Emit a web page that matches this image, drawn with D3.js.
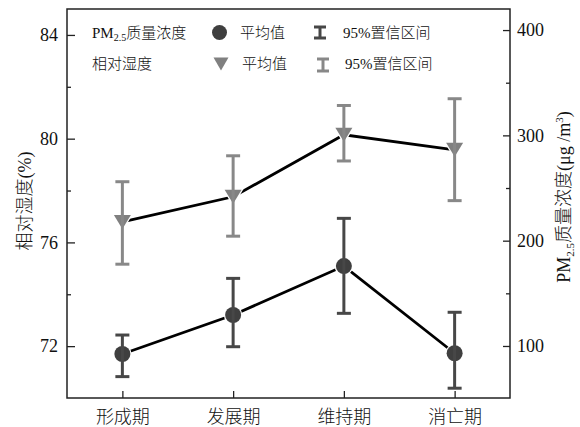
<!DOCTYPE html>
<html>
<head>
<meta charset="utf-8">
<script src="https://cdn.jsdelivr.net/npm/d3@7"></script>
<style>
  html, body { margin: 0; padding: 0; background: #fff; }
  svg text { font-family: "Liberation Serif", "Times New Roman", "Noto Sans CJK SC", serif; fill: #111; font-weight: 300; }
</style>
</head>
<body>
<svg id="chart" width="580" height="427"></svg>
<script>
// ---- data ----
const categories = ["形成期", "发展期", "维持期", "消亡期"];
const pmMean = [92.4, 129.4, 175.9, 93.1];
const pmLow  = [70.9, 99.3, 131.0, 59.9];
const pmHigh = [110.4, 164.2, 221.2, 132.0];
const rhMean = [76.79, 77.76, 80.15, 79.57];
const rhLow  = [75.16, 76.24, 79.14, 77.61];
const rhHigh = [78.34, 79.34, 81.28, 81.54];
const rhTicks = [72, 76, 80, 84];
const rhMinor = [74, 78, 82];
const pmTicks = [100, 200, 300, 400];
const pmMinor = [150, 250, 350];

// ---- layout ----
const L = 67, R = 510, T = 9, B = 398;
const svg = d3.select("#chart");
const x = d3.scalePoint().domain(categories).range([L, R]).padding(0.5);
const yL = d3.scaleLinear().domain([70, 85]).range([B, T]);
const yR = d3.scaleLinear().domain([50.6, 420]).range([B, T]);

const cDark = "#3f3f3f", cDarkBar = "#474747";
const cGray = "#808080", cGrayBar = "#888888";

// axes
const gL = svg.append("g").attr("transform", `translate(${L},0)`)
  .call(d3.axisLeft(yL).tickValues(rhTicks).tickSize(-8).tickSizeOuter(0).tickPadding(9));
const gLm = svg.append("g").attr("transform", `translate(${L},0)`)
  .call(d3.axisLeft(yL).tickValues(rhMinor).tickSize(-4).tickSizeOuter(0).tickFormat(""));
const gR = svg.append("g").attr("transform", `translate(${R},0)`)
  .call(d3.axisRight(yR).tickValues(pmTicks).tickSize(-7).tickSizeOuter(0).tickPadding(7));
const gRm = svg.append("g").attr("transform", `translate(${R},0)`)
  .call(d3.axisRight(yR).tickValues(pmMinor).tickSize(-4).tickSizeOuter(0).tickFormat(""));
const gB = svg.append("g").attr("transform", `translate(0,${B})`)
  .call(d3.axisBottom(x).tickSize(-7).tickSizeOuter(0));
gB.selectAll("text").attr("y", 25).attr("dy", 0);

[gL, gLm, gR, gRm, gB].forEach(g => {
  g.select(".domain").remove();
  g.selectAll(".tick line").attr("stroke", "#222").attr("stroke-width", 1.3);
  g.selectAll("text").attr("font-size", 18).attr("fill", "#111")
    .style("font-family", '"Liberation Serif", "Noto Sans CJK SC", serif');
});

// frame
svg.append("rect").attr("x", L).attr("y", T).attr("width", R - L).attr("height", B - T)
  .attr("fill", "none").attr("stroke", "#222").attr("stroke-width", 1.5);

// lines
const lineRH = d3.line().x((d, i) => x(categories[i])).y(d => yL(d));
const linePM = d3.line().x((d, i) => x(categories[i])).y(d => yR(d));
svg.append("path").attr("d", lineRH(rhMean)).attr("fill", "none").attr("stroke", "#000").attr("stroke-width", 2.8);
svg.append("path").attr("d", linePM(pmMean)).attr("fill", "none").attr("stroke", "#000").attr("stroke-width", 2.8);

// markers (with white halo = gap to line)
const triPath = "M-8.5,-7L8.5,-7L0,7Z";
svg.append("g").selectAll("path").data(rhMean).join("path")
  .attr("d", triPath)
  .attr("transform", (d, i) => `translate(${x(categories[i])},${yL(d)})`)
  .attr("fill", cGray).attr("stroke", "#fff").attr("stroke-width", 2.5)
  .style("paint-order", "stroke");
svg.append("g").selectAll("circle").data(pmMean).join("circle")
  .attr("cx", (d, i) => x(categories[i])).attr("cy", d => yR(d)).attr("r", 8)
  .attr("fill", cDark).attr("stroke", "#fff").attr("stroke-width", 2.5)
  .style("paint-order", "stroke");

// error bars
function errBars(lo, hi, scale, color) {
  const g = svg.append("g").attr("stroke", color).attr("stroke-width", 3).attr("fill", "none");
  categories.forEach((c, i) => {
    const cx = x(c);
    g.append("line").attr("x1", cx).attr("x2", cx).attr("y1", scale(lo[i])).attr("y2", scale(hi[i]));
    g.append("line").attr("x1", cx - 7).attr("x2", cx + 7).attr("y1", scale(lo[i])).attr("y2", scale(lo[i]));
    g.append("line").attr("x1", cx - 7).attr("x2", cx + 7).attr("y1", scale(hi[i])).attr("y2", scale(hi[i]));
  });
}
errBars(rhLow, rhHigh, yL, cGrayBar);
errBars(pmLow, pmHigh, yR, cDarkBar);

// axis titles
const tL = svg.append("text").attr("transform", "translate(31,201) rotate(-90)")
  .attr("text-anchor", "middle").attr("font-size", 18).text("相对湿度(%)");
const tR = svg.append("text").attr("transform", "translate(570,197) rotate(-90)")
  .attr("text-anchor", "middle").attr("font-size", 18);
tR.append("tspan").text("PM");
tR.append("tspan").attr("font-size", 11).attr("dy", 4).text("2.5");
tR.append("tspan").attr("dy", -4).text("质量浓度(μg /m");
tR.append("tspan").attr("font-size", 11).attr("dy", -7).text("3");
tR.append("tspan").attr("dy", 7).text(")");

// legend
const lg = svg.append("g");
const t1 = lg.append("text").attr("x", 92).attr("y", 37.5).attr("font-size", 15);
t1.append("tspan").text("PM");
t1.append("tspan").attr("font-size", 10).attr("dy", 3).text("2.5");
t1.append("tspan").attr("dy", -3).text("质量浓度");
lg.append("circle").attr("cx", 219.5).attr("cy", 32.5).attr("r", 7.5).attr("fill", cDark);
lg.append("text").attr("x", 240).attr("y", 37.5).attr("font-size", 15).text("平均值");
function legBar(cx, y1, y2, color) {
  const g = lg.append("g").attr("stroke", color).attr("stroke-width", 3);
  g.append("line").attr("x1", cx).attr("x2", cx).attr("y1", y1).attr("y2", y2);
  g.append("line").attr("x1", cx - 6).attr("x2", cx + 6).attr("y1", y1).attr("y2", y1);
  g.append("line").attr("x1", cx - 6).attr("x2", cx + 6).attr("y1", y2).attr("y2", y2);
}
legBar(320, 27, 38, cDarkBar);
lg.append("text").attr("x", 343).attr("y", 37.5).attr("font-size", 15).text("95%置信区间");

lg.append("text").attr("x", 92).attr("y", 69).attr("font-size", 15).text("相对湿度");
lg.append("path").attr("d", "M-7.5,-6.5L7.5,-6.5L0,6.5Z").attr("transform", "translate(221,64)").attr("fill", cGray);
lg.append("text").attr("x", 242).attr("y", 69).attr("font-size", 15).text("平均值");
legBar(323, 59, 71, cGrayBar);
lg.append("text").attr("x", 345).attr("y", 69).attr("font-size", 15).text("95%置信区间");
</script>
</body>
</html>
